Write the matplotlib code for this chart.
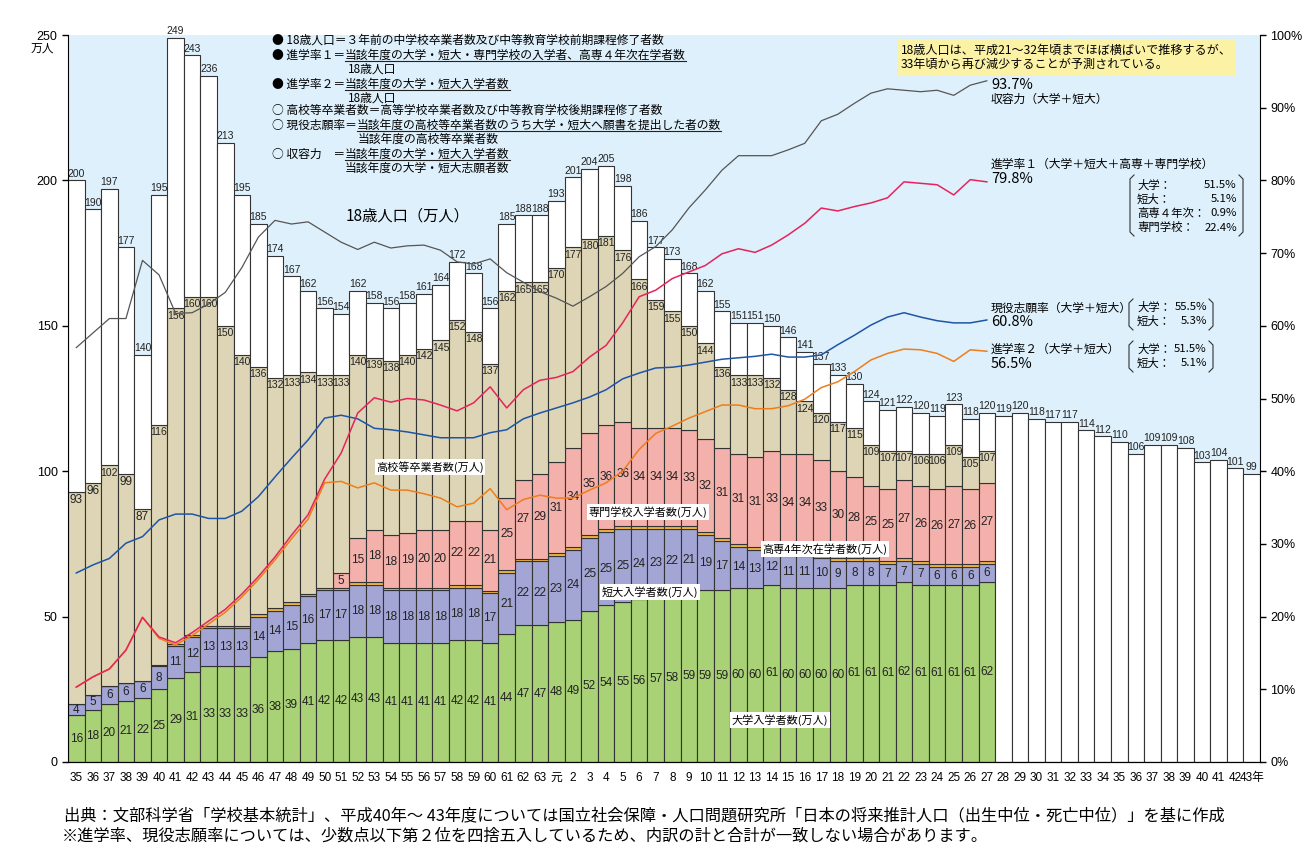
import numpy as np
import matplotlib
matplotlib.use("Agg")
import matplotlib.pyplot as plt
from matplotlib.lines import Line2D

plt.rcParams['font.family'] = ['Noto Sans CJK JP', 'DejaVu Sans']
NUMFONT = ['Liberation Sans', 'Noto Sans CJK JP']

# ---------------- data ----------------
year_labels = ([str(y) for y in range(35, 64)] + ['元']
               + [str(y) for y in range(2, 43)] + ['43年'])

# 18歳人口 (万人) S35 .. H43
pop18 = [200, 190, 197, 177, 140, 195, 249, 243, 236, 213, 195, 185, 174, 167, 162,
         156, 154, 162, 158, 156, 158, 161, 164, 172, 168, 156, 185, 188, 188, 193,
         201, 204, 205, 198, 186, 177, 173, 168, 162, 155, 151, 151, 150, 146, 141,
         137, 133, 130, 124, 121, 122, 120, 119, 123, 118, 120,
         119, 120, 118, 117, 117, 114, 112, 110, 106, 109, 109, 108, 103, 104, 101, 99]

# 高校等卒業者数 S35 .. H27
highschool = [93, 96, 102, 99, 87, 116, 156, 160, 160, 150, 140, 136, 132, 133, 134,
              133, 133, 140, 139, 138, 140, 142, 145, 152, 148, 137, 162, 165, 165, 170,
              177, 180, 181, 176, 166, 159, 155, 150, 144, 136, 133, 133, 132, 128, 124,
              120, 117, 115, 109, 107, 107, 106, 106, 109, 105, 107]

# 大学入学者数
univ = [16, 18, 20, 21, 22, 25, 29, 31, 33, 33, 33, 36, 38, 39, 41,
        42, 42, 43, 43, 41, 41, 41, 41, 42, 42, 41, 44, 47, 47, 48,
        49, 52, 54, 55, 56, 57, 58, 59, 59, 59, 60, 60, 61, 60, 60,
        60, 60, 61, 61, 61, 62, 61, 61, 61, 61, 62]

# 短大入学者数
junior = [4, 5, 6, 6, 6, 8, 11, 12, 13, 13, 13, 14, 14, 15, 16,
          17, 17, 18, 18, 18, 18, 18, 18, 18, 18, 17, 21, 22, 22, 23,
          24, 25, 25, 25, 24, 23, 22, 21, 19, 17, 14, 13, 12, 11, 11,
          10, 9, 8, 8, 7, 7, 7, 6, 6, 6, 6]

# 高専4年次在学者数
kosen = [0, 0, 0, 0, 0, 0.3, 0.5, 0.7, 0.8, 0.8, 0.8, 0.9, 0.9, 0.9, 0.9,
         0.9, 0.9, 0.9, 0.9, 0.9, 0.9, 0.9, 0.9, 0.9, 0.9, 0.9, 0.9, 0.9, 0.9, 1.0,
         1.0, 1.0, 1.0, 1.0, 1.0, 1.0, 1.0, 1.0, 1.0, 1.0, 1.0, 1.0, 1.0, 1.0, 1.0,
         1.0, 1.0, 1.0, 1.0, 1.0, 1.0, 1.0, 1.0, 1.0, 1.0, 1.0]

# 専門学校入学者数
senmon = [0, 0, 0, 0, 0, 0, 0, 0, 0, 0, 0, 0, 0, 0, 0,
          0, 5, 15, 18, 18, 19, 20, 20, 22, 22, 21, 25, 27, 29, 31,
          34, 35, 36, 36, 34, 34, 34, 33, 32, 31, 31, 31, 33, 34, 34,
          33, 30, 28, 25, 25, 27, 26, 26, 27, 26, 27]

# rates (%) S35 .. H27
capacity = [57.0, 59.0, 61.0, 61.0, 69.0, 67.0, 61.7, 61.8, 63.0, 64.6, 68.0, 72.2, 74.5, 74.0, 74.3,
            72.9, 71.5, 70.5, 71.5, 70.7, 71.0, 71.1, 70.4, 68.8, 68.5, 69.2, 67.3, 66.0, 64.7, 63.8,
            62.7, 64.0, 65.4, 67.2, 69.5, 70.9, 73.2, 76.2, 78.7, 81.4, 83.4, 83.4, 83.4, 84.2, 85.1,
            88.2, 89.1, 90.6, 92.0, 92.6, 92.4, 92.2, 92.4, 91.7, 93.1, 93.7]
rate1 = [10.3, 11.7, 12.8, 15.4, 19.9, 17.2, 16.4, 17.8, 19.4, 21.0, 23.1, 25.5, 28.2, 31.2, 34.0,
         38.9, 42.5, 48.0, 50.1, 49.5, 50.0, 49.8, 49.1, 48.3, 49.4, 51.6, 48.7, 51.2, 52.5, 52.9,
         53.7, 55.7, 57.3, 60.4, 64.0, 64.9, 66.5, 67.4, 68.3, 69.9, 70.6, 70.1, 71.1, 72.5, 74.1,
         76.2, 75.8, 76.4, 76.9, 77.6, 79.8, 79.6, 79.4, 78.0, 80.1, 79.8]
rate2 = [10.3, 11.7, 12.8, 15.4, 19.9, 17.0, 16.1, 17.4, 19.0, 20.6, 22.7, 25.1, 27.8, 30.7, 33.4,
         38.4, 38.6, 37.7, 38.4, 37.4, 37.4, 36.9, 36.3, 35.1, 35.6, 37.6, 34.7, 36.1, 36.7, 36.3,
         36.3, 37.4, 38.4, 40.0, 43.0, 45.2, 46.2, 47.3, 48.2, 49.1, 49.1, 48.6, 48.6, 49.0, 49.9,
         51.5, 52.3, 53.7, 55.3, 56.2, 56.8, 56.7, 56.2, 55.1, 56.7, 56.5]
apply_rate = [26.0, 27.1, 28.0, 30.1, 31.0, 33.3, 34.1, 34.1, 33.5, 33.5, 34.5, 36.5, 39.2, 41.8, 44.3,
              47.3, 47.7, 47.2, 45.9, 45.7, 45.4, 45.0, 44.6, 44.6, 44.6, 45.3, 45.7, 47.2, 48.0, 48.7,
              49.4, 50.2, 51.2, 52.7, 53.5, 54.2, 54.3, 54.6, 55.0, 55.4, 55.6, 55.8, 56.1, 55.7, 55.7,
              56.0, 57.4, 58.7, 60.1, 61.2, 61.8, 61.2, 60.7, 60.4, 60.4, 60.8]

# ---------------- figure ----------------
W, H = 1307, 849
fig = plt.figure(figsize=(W / 100, H / 100), dpi=100)
ax = fig.add_axes([68 / W, (H - 762) / H, (1260 - 68) / W, (762 - 35) / H])
ax.set_facecolor('#def0fb')

n = len(univ)
x_all = np.arange(len(pop18))
x = np.arange(n)
edge = dict(edgecolor='#333333', linewidth=0.8, width=1.0)

g = np.array(univ, float)
p = np.array(junior, float)
k = np.array(kosen, float)
s = np.array(senmon, float)
hs = np.array(highschool, float)
pop = np.array(pop18, float)

b1 = g + p
b2 = b1 + k
b3 = b2 + s
ax.bar(x, g, color='#a9d175', **edge)
ax.bar(x, p, bottom=g, color='#a3a6d4', **edge)
ax.bar(x, k, bottom=b1, color='#f5b840', **edge)
ax.bar(x, s, bottom=b2, color='#f4b0ab', **edge)
ax.bar(x, hs - b3, bottom=b3, color='#ddd5b5', **edge)
ax.bar(x, pop[:n] - hs, bottom=hs, color='white', **edge)
ax.bar(x_all[n:], pop[n:], color='white', **edge)

# value labels
for i in range(len(pop18)):
    ax.text(i, pop[i] + 0.6, str(pop18[i]), ha='center', va='bottom',
            fontsize=7.5, family=NUMFONT, color='#222')
for i in range(n):
    ax.text(i, hs[i] - 0.8, str(highschool[i]), ha='center', va='top',
            fontsize=7.5 if highschool[i] >= 100 else 8.5, family=NUMFONT, color='#222')
    ax.text(i, g[i] / 2, str(univ[i]), ha='center', va='center',
            fontsize=8.5, family=NUMFONT, color='#222')
    ax.text(i, g[i] + p[i] / 2, str(junior[i]), ha='center', va='center',
            fontsize=8.5, family=NUMFONT, color='#222')
    if senmon[i] > 0:
        ax.text(i, b2[i] + s[i] / 2, str(senmon[i]), ha='center', va='center',
                fontsize=8.5, family=NUMFONT, color='#222')

ax.set_xlim(-0.5, len(pop18) - 0.5)
ax.set_ylim(0, 250)
ax.set_yticks(range(0, 251, 50))
ax.set_xticks(x_all)
ax.set_xticklabels(year_labels, fontsize=8.5, family=NUMFONT)
ax.tick_params(axis='x', length=0, pad=7)
ax.tick_params(axis='y', labelsize=9, length=4, width=1)
for lab in ax.get_yticklabels():
    lab.set_family(NUMFONT)
ax.spines['top'].set_visible(False)
ax.spines['right'].set_visible(False)

ax2 = ax.twinx()
ax2.set_ylim(0, 100)
ax2.set_yticks(range(0, 101, 10))
ax2.set_yticklabels([f'{v}%' for v in range(0, 101, 10)], family=NUMFONT)
ax2.tick_params(axis='y', labelsize=9, length=4, width=1)
ax2.spines['top'].set_visible(False)
ax2.spines['left'].set_visible(False)

ax2.plot(x, capacity, color='#555555', lw=0.9)
ax2.plot(x, apply_rate, color='#1f55a6', lw=1.1)
ax2.plot(x, rate2, color='#ef7d1a', lw=1.1)
ax2.plot(x, rate1, color='#e6245b', lw=1.1)


# ---------------- annotations ----------------
def ftext(xp, yp, txt, size=8.5, **kw):
    kw.setdefault('va', 'center')
    return fig.text(xp / W, 1 - yp / H, txt, fontsize=size, **kw)


def bracket(x0, y0, x1, y1):
    for pts in ([(x0 + 4, y0), (x0, y0 + 4), (x0, y1 - 4), (x0 + 4, y1)],
                [(x1 - 4, y0), (x1, y0 + 4), (x1, y1 - 4), (x1 - 4, y1)]):
        fig.add_artist(Line2D([q[0] / W for q in pts], [1 - q[1] / H for q in pts],
                              transform=fig.transFigure, color='#333', lw=0.8))


ftext(42, 48, '万人', 8.5, ha='center')

underlined = []
ftext(272, 40, '● 18歳人口＝３年前の中学校卒業者数及び中等教育学校前期課程修了者数')
ftext(272, 55, '● 進学率１＝')
underlined.append(ftext(345, 55, '当該年度の大学・短大・専門学校の入学者、高専４年次在学者数'))
ftext(348, 69, '18歳人口')
ftext(272, 84, '● 進学率２＝')
underlined.append(ftext(345, 84, '当該年度の大学・短大入学者数'))
ftext(348, 98, '18歳人口')
ftext(272, 110, '○ 高校等卒業者数＝高等学校卒業者数及び中等教育学校後期課程修了者数')
ftext(272, 125, '○ 現役志願率＝')
underlined.append(ftext(357, 125, '当該年度の高校等卒業者数のうち大学・短大へ願書を提出した者の数'))
ftext(358, 139, '当該年度の高校等卒業者数')
ftext(272, 154, '○ 収容力　＝')
underlined.append(ftext(345, 154, '当該年度の大学・短大入学者数'))
ftext(345, 168, '当該年度の大学・短大志願者数')

ftext(408, 216, '18歳人口（万人）', 11, ha='center')

ftext(901, 57, '18歳人口は、平成21～32年頃までほぼ横ばいで推移するが、\n33年頃から再び減少することが予測されている。',
      8.7, linespacing=1.1,
      bbox=dict(facecolor='#fbf2a6', edgecolor='none', pad=3))

ftext(991, 85, '93.7%', 10.5)
ftext(991, 99, '収容力（大学＋短大）', 8.5)
ftext(991, 164, '進学率１（大学＋短大＋高専＋専門学校）', 8.5)
ftext(991, 179, '79.8%', 10.5)
ftext(991, 308, '現役志願率（大学＋短大）', 8.5)
ftext(991, 322, '60.8%', 10.5)
ftext(991, 349, '進学率２（大学＋短大）', 8.5)
ftext(991, 364, '56.5%', 10.5)

box1 = [('大学：', '51.5%'), ('短大：', '5.1%'), ('高専４年次：', '0.9%'), ('専門学校：', '22.4%')]
for j, (a, b) in enumerate(box1):
    ftext(1137, 185 + 14.2 * j, a, 8.2)
    ftext(1237, 185 + 14.2 * j, b, 8.2, ha='right')
bracket(1130, 175, 1243, 236)

for y0, rows in ((307, [('大学：', '55.5%'), ('短大：', '5.3%')]),
                 (349, [('大学：', '51.5%'), ('短大：', '5.1%')])):
    for j, (a, b) in enumerate(rows):
        ftext(1137, y0 + 14.5 * j, a, 8.2)
        ftext(1207, y0 + 14.5 * j, b, 8.2, ha='right')
    bracket(1129, y0 - 8, 1213, y0 + 23)

seg_box = dict(facecolor='white', edgecolor='none', pad=1.2)
ftext(430, 467, '高校等卒業者数(万人)', 8, ha='center', bbox=seg_box)
ftext(648, 512, '専門学校入学者数(万人)', 8, ha='center', bbox=seg_box)
ftext(825, 549, '高専4年次在学者数(万人)', 8, ha='center', bbox=seg_box)
ftext(650, 592, '短大入学者数(万人)', 8, ha='center', bbox=seg_box)
ftext(780, 720, '大学入学者数(万人)', 8, ha='center', bbox=seg_box)

ftext(64, 816, '出典：文部科学省「学校基本統計」、平成40年～ 43年度については国立社会保障・人口問題研究所「日本の将来推計人口（出生中位・死亡中位）」を基に作成', 11.7)
ftext(62, 836, '※進学率、現役志願率については、少数点以下第２位を四捨五入しているため、内訳の計と合計が一致しない場合があります。', 11.7)

# underlines under the fraction numerators
fig.canvas.draw()
rend = fig.canvas.get_renderer()
for t in underlined:
    bb = t.get_window_extent(rend)
    yy = (bb.y0 + 0.5) / fig.bbox.height
    fig.add_artist(Line2D([bb.x0 / fig.bbox.width, bb.x1 / fig.bbox.width], [yy, yy],
                          transform=fig.transFigure, color='#222', lw=0.8))

fig.savefig('out.png', dpi=100)
